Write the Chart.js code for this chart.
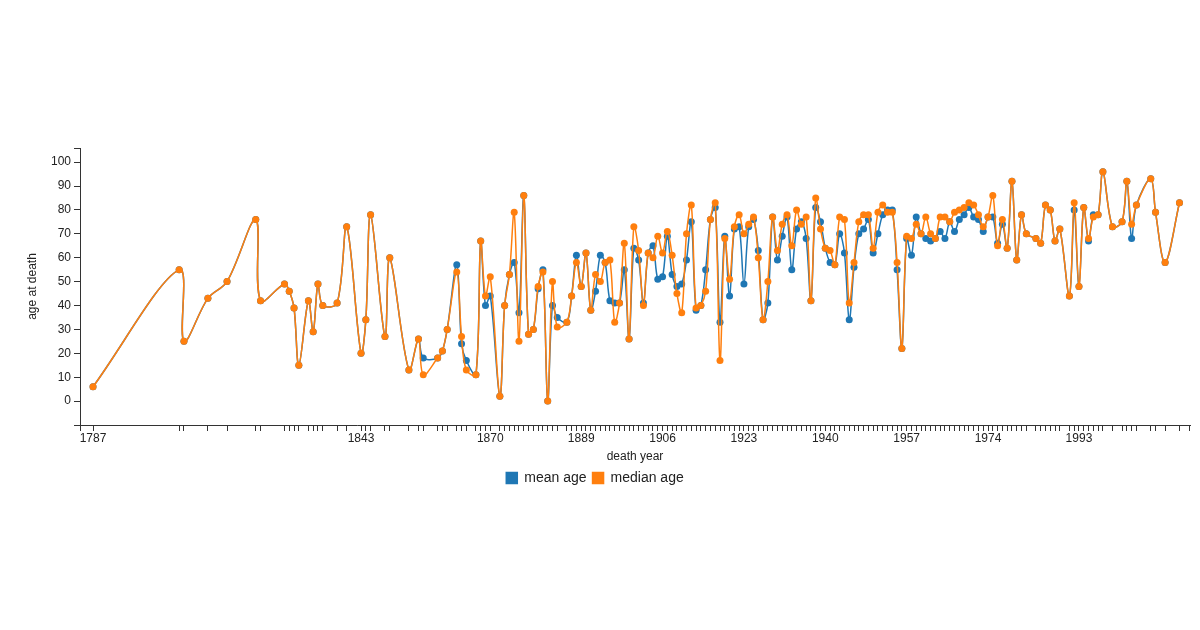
<!DOCTYPE html>
<html>
<head>
<meta charset="utf-8">
<script src="https://cdn.jsdelivr.net/npm/chart.js@4"></script>
<style>
  body { margin: 0; background: #fff; }
</style>
</head>
<body>
<canvas id="ageChart" width="1200" height="630"></canvas>
<script>
// Data
const years = [
  1787, 1805, 1806, 1811, 1815, 1821, 1822, 1827, 1828, 1829, 1830, 1832, 1833, 1834, 1835, 1838, 1840,
  1843, 1844, 1845, 1848, 1849, 1853, 1855, 1856, 1859, 1860, 1861, 1863, 1864, 1865, 1867, 1868, 1869,
  1870, 1872, 1873, 1874, 1875, 1876, 1877, 1878, 1879, 1880, 1881, 1882, 1883, 1884, 1886, 1887, 1888,
  1889, 1890, 1891, 1892, 1893, 1894, 1895, 1896, 1897, 1898, 1899, 1900, 1901, 1902, 1903, 1904, 1905,
  1906, 1907, 1908, 1909, 1910, 1911, 1912, 1913, 1914, 1915, 1916, 1917, 1918, 1919, 1920, 1921, 1922,
  1923, 1924, 1925, 1926, 1927, 1928, 1929, 1930, 1931, 1932, 1933, 1934, 1935, 1936, 1937, 1938, 1939,
  1940, 1941, 1942, 1943, 1944, 1945, 1946, 1947, 1948, 1949, 1950, 1951, 1952, 1953, 1954, 1955, 1956,
  1957, 1958, 1959, 1960, 1961, 1962, 1963, 1964, 1965, 1966, 1967, 1968, 1969, 1970, 1971, 1972, 1973,
  1974, 1975, 1976, 1977, 1978, 1979, 1980, 1981, 1982, 1984, 1985, 1986, 1987, 1988, 1989, 1991, 1992,
  1993, 1994, 1995, 1996, 1997, 1998, 2000, 2002, 2003, 2004, 2005, 2008, 2009, 2011, 2014,
];

const meanAge = [
  6, 55, 25, 43, 50, 76, 42, 49, 46, 39, 15, 42, 29, 49, 40, 41, 73,
  20, 34, 78, 27, 60, 13, 26, 18, 18, 21, 30, 57, 24, 17, 11, 67, 40,
  44, 2, 40, 53, 58, 37, 86, 28, 30, 47, 55, 0, 40, 35, 33, 44, 61,
  48, 62, 38, 46, 61, 58, 42, 41, 41, 55, 26, 64, 59, 41, 62, 65, 51,
  52, 69, 53, 48, 49, 59, 75, 38, 40, 55, 76, 81, 33, 69, 44, 72, 73,
  49, 73, 76, 63, 34, 41, 77, 59, 69, 77, 55, 72, 75, 68, 42, 81, 75,
  64, 58, 57, 70, 62, 34, 56, 70, 72, 76, 62, 70, 78, 80, 80, 55, 22,
  68, 61, 77, 70, 68, 67, 68, 71, 68, 75, 71, 76, 78, 81, 77, 76, 71,
  77, 77, 66, 74, 64, 92, 59, 78, 70, 68, 66, 82, 80, 67, 72, 44, 80,
  48, 81, 67, 78, 78, 96, 73, 75, 92, 68, 82, 93, 79, 58, 83,
];

const medianAge = [
  6, 55, 25, 43, 50, 76, 42, 49, 46, 39, 15, 42, 29, 49, 40, 41, 73,
  20, 34, 78, 27, 60, 13, 26, 11, 18, 21, 30, 54, 27, 13, 11, 67, 44,
  52, 2, 40, 53, 79, 25, 86, 28, 30, 48, 54, 0, 50, 31, 33, 44, 58,
  48, 62, 38, 53, 50, 58, 59, 33, 41, 66, 26, 73, 63, 40, 62, 60, 69,
  62, 71, 61, 45, 37, 70, 82, 39, 40, 46, 76, 83, 17, 68, 51, 73, 78,
  70, 74, 77, 60, 34, 50, 77, 63, 74, 78, 65, 80, 74, 77, 42, 85, 72,
  64, 63, 57, 77, 76, 41, 58, 75, 78, 78, 64, 79, 82, 79, 79, 58, 22,
  69, 68, 74, 70, 77, 70, 68, 77, 77, 75, 79, 80, 81, 83, 82, 78, 73,
  77, 86, 65, 76, 64, 92, 59, 78, 70, 68, 66, 82, 80, 67, 72, 44, 83,
  48, 81, 68, 77, 78, 96, 73, 75, 92, 74, 82, 93, 79, 58, 83,
];

const labeledYears = [1787, 1843, 1870, 1889, 1906, 1923, 1940, 1957, 1974, 1993];
const ageTicks = [0, 10, 20, 30, 40, 50, 60, 70, 80, 90, 100];

const toPoints = (values) => years.map((year, i) => ({ x: year, y: values[i] }));

const axisFont = { family: "'Liberation Sans', Arial, sans-serif", size: 12 };
const axisColor = "#333";

// d3-style outer ticks at both ends of each axis
const outerTicks = {
  id: "outerTicks",
  afterDraw(chart) {
    const { ctx, chartArea } = chart;
    const { left, right, top, bottom } = chartArea;
    ctx.save();
    ctx.strokeStyle = axisColor;
    ctx.lineWidth = 1;
    ctx.beginPath();
    ctx.moveTo(left - 6, top + 0.5);
    ctx.lineTo(left, top + 0.5);
    ctx.moveTo(left - 6, bottom + 0.5);
    ctx.lineTo(left, bottom + 0.5);
    ctx.moveTo(left + 0.5, bottom);
    ctx.lineTo(left + 0.5, bottom + 6);
    ctx.moveTo(right - 0.5, bottom);
    ctx.lineTo(right - 0.5, bottom + 6);
    ctx.stroke();
    ctx.restore();
  },
};

const ctx = document.getElementById("ageChart").getContext("2d");
new Chart(ctx, {
  type: "line",
  data: {
    datasets: [
      {
        label: "mean age",
        data: toPoints(meanAge),
        borderColor: "#1f77b4",
        backgroundColor: "#1f77b4",
        order: 1,
      },
      {
        label: "median age",
        data: toPoints(medianAge),
        borderColor: "#ff7f0e",
        backgroundColor: "#ff7f0e",
        order: 0,
      },
    ],
  },
  options: {
    responsive: false,
    animation: false,
    layout: { padding: { top: 148, right: 10, bottom: 135, left: 0 } },
    elements: {
      line: { borderWidth: 1.5, tension: 0.35, fill: false },
      point: { radius: 3.5, borderWidth: 0, hoverRadius: 4 },
    },
    scales: {
      x: {
        type: "linear",
        min: 1784.28,
        max: 2016.2,
        afterBuildTicks: (scale) => {
          scale.ticks = years.map((v) => ({ value: v }));
        },
        afterFit: (scale) => {
          scale.height = 40;
        },
        ticks: {
          autoSkip: false,
          maxRotation: 0,
          padding: 0,
          color: "#222",
          font: axisFont,
          callback: (v) => (labeledYears.includes(v) ? String(v) : ""),
        },
        grid: { drawOnChartArea: false, tickLength: 6, color: axisColor },
        border: { color: axisColor },
        title: {
          display: true,
          text: "death year",
          color: "#222",
          font: axisFont,
          padding: { top: 0, bottom: 1 },
        },
      },
      y: {
        min: -10,
        max: 105.9,
        afterBuildTicks: (scale) => {
          scale.ticks = ageTicks.map((v) => ({ value: v }));
        },
        afterFit: (scale) => {
          scale.width = 80;
        },
        ticks: { padding: 3, color: "#222", font: axisFont },
        grid: { drawOnChartArea: false, tickLength: 6, color: axisColor },
        border: { color: axisColor },
        title: {
          display: true,
          text: "age at death",
          color: "#222",
          font: axisFont,
          padding: { top: 25, bottom: 0 },
        },
      },
    },
    plugins: {
      legend: {
        position: "bottom",
        labels: {
          sort: (a, b) => a.datasetIndex - b.datasetIndex,
          boxWidth: 11,
          boxHeight: 11,
          padding: 6,
          color: "#222",
          font: { family: "'Liberation Sans', Arial, sans-serif", size: 14 },
        },
      },
      tooltip: { enabled: false },
    },
  },
  plugins: [outerTicks],
});
</script>
</body>
</html>
